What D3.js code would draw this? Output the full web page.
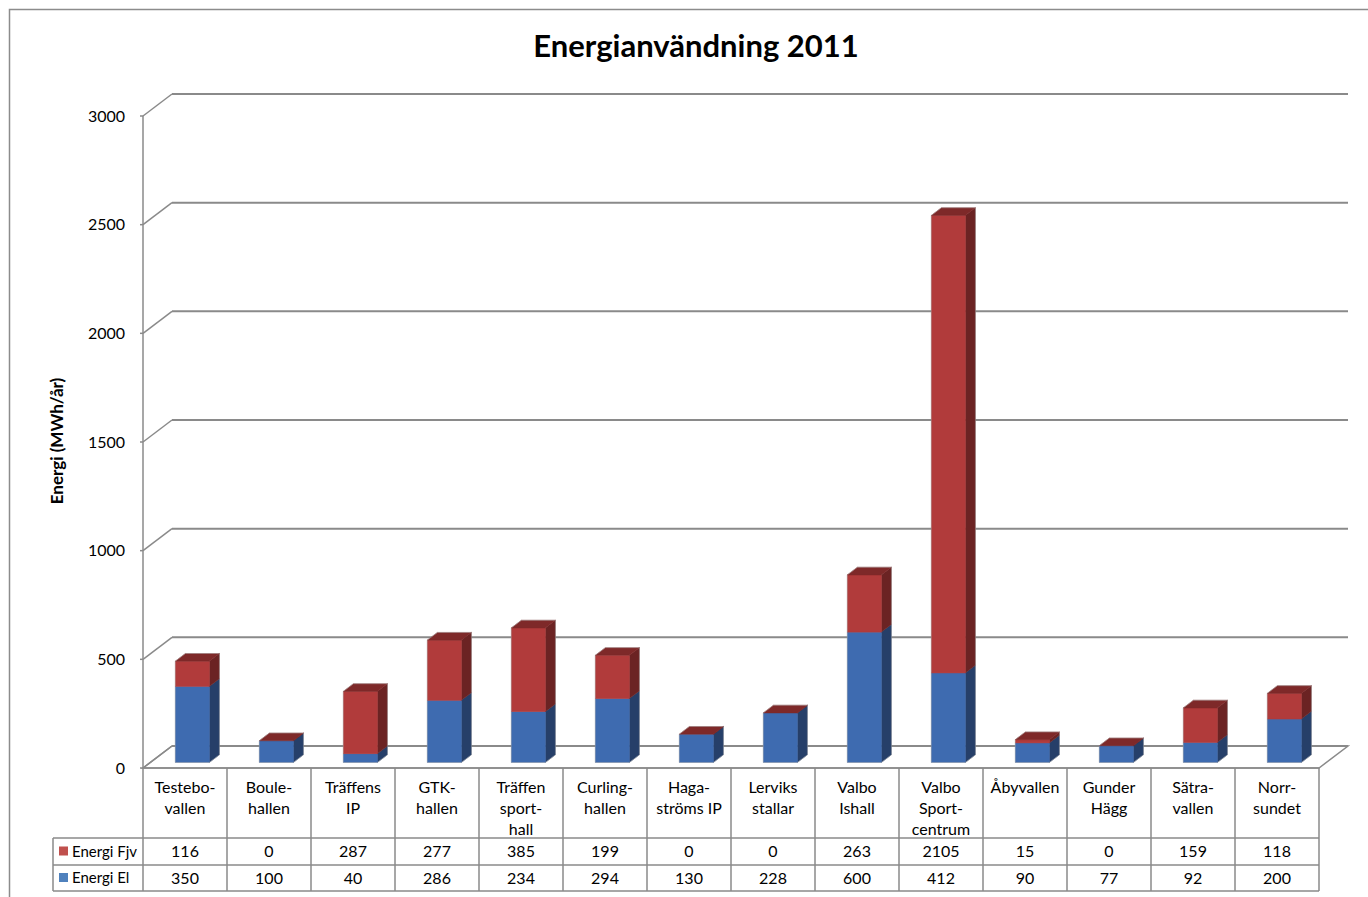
<!DOCTYPE html>
<html>
<head>
<meta charset="utf-8">
<script src="https://cdn.jsdelivr.net/npm/d3@7/dist/d3.min.js"></script>
<style>
  html, body { margin: 0; padding: 0; background: #fff; }
  svg { display: block; font-family: Lato, "Open Sans", sans-serif; }
</style>
</head>
<body>
<svg id="chart" width="1368" height="897"></svg>
<script>
// Energy use per facility, 2011 (MWh/year)
const categories = [
  ["Testebo-", "vallen"], ["Boule-", "hallen"], ["Träffens", "IP"], ["GTK-", "hallen"],
  ["Träffen", "sport-", "hall"], ["Curling-", "hallen"], ["Haga-", "ströms IP"],
  ["Lerviks", "stallar"], ["Valbo", "Ishall"], ["Valbo", "Sport-", "centrum"],
  ["Åbyvallen"], ["Gunder", "Hägg"], ["Sätra-", "vallen"], ["Norr-", "sundet"]
];
const energiFjv = [116, 0, 287, 277, 385, 199, 0, 0, 263, 2105, 15, 0, 159, 118];
const energiEl  = [350, 100, 40, 286, 234, 294, 130, 228, 600, 412, 90, 77, 92, 200];
const yTicks = [0, 500, 1000, 1500, 2000, 2500, 3000];
const seriesNames = ["Energi Fjv", "Energi El"];

const svg = d3.select("#chart");

// plot geometry (front plane) and 3D depth offset
const plotLeft = 143, plotRight = 1319, plotBottom = 768, plotTop = 116;
const depthX = 29, depthY = -22;
const f1 = 0.25, f2 = 0.6;           // bar depth span within the floor
const barFrac = 0.405;

const keys = categories.map((c, i) => i);
const x = d3.scaleBand().domain(keys).range([plotLeft, plotRight]).padding(0);
const y = d3.scaleLinear().domain([0, 3000]).range([plotBottom, plotTop]);

const gridColor = "#8a8a8a";

// outer chart border
svg.append("rect").attr("x", 9.5).attr("y", 9.5).attr("width", 1380).attr("height", 900)
  .attr("fill", "none").attr("stroke", "#8c8c8c").attr("stroke-width", 1.5);

// title
svg.append("text").attr("x", 696).attr("y", 57).attr("text-anchor", "middle")
  .attr("font-size", 31).attr("font-weight", "bold").attr("fill", "#000")
  .text("Energianvändning 2011");

// floor
svg.append("path")
  .attr("d", `M${plotLeft},${plotBottom} L${plotRight},${plotBottom} L${plotRight + depthX},${plotBottom + depthY} L${plotLeft + depthX},${plotBottom + depthY} Z`)
  .attr("fill", "#fff").attr("stroke", gridColor).attr("stroke-width", 1.5);

// back-wall gridlines and side-wall diagonals
const grid = svg.append("g");
yTicks.forEach(t => {
  const yf = y(t);
  grid.append("line").attr("x1", plotLeft + depthX).attr("x2", plotRight + depthX)
    .attr("y1", yf + depthY).attr("y2", yf + depthY)
    .attr("stroke", gridColor).attr("stroke-width", 2);
  grid.append("line").attr("x1", plotLeft).attr("x2", plotLeft + depthX)
    .attr("y1", yf).attr("y2", yf + depthY)
    .attr("stroke", gridColor).attr("stroke-width", 1.5);
  grid.append("line").attr("x1", plotLeft - 3).attr("x2", plotLeft)
    .attr("y1", yf).attr("y2", yf)
    .attr("stroke", gridColor).attr("stroke-width", 1.5);
});
// front value axis
grid.append("line").attr("x1", plotLeft).attr("x2", plotLeft).attr("y1", plotTop).attr("y2", plotBottom)
  .attr("stroke", gridColor).attr("stroke-width", 1.5);

// tick labels
svg.append("g").selectAll("text").data(yTicks).join("text")
  .attr("x", 125).attr("y", d => y(d)).attr("dy", "0.35em")
  .attr("text-anchor", "end").attr("font-size", 16).attr("fill", "#000")
  .text(d => d);

// axis title
svg.append("text").attr("transform", "translate(63,441) rotate(-90)")
  .attr("text-anchor", "middle").attr("font-size", 17).attr("font-weight", "bold")
  .text("Energi (MWh/år)");

// 3D stacked bars
const colors = {
  el:  { front: "#3e6bb0", side: "#263f69", top: "#2f5190" },
  fjv: { front: "#b13b3b", side: "#6b2323", top: "#7e2929" }
};
const bars = svg.append("g");
const bw = x.bandwidth() * barFrac;
const dx1 = depthX * f1, dy1 = depthY * f1;
const ddx = depthX * (f2 - f1), ddy = depthY * (f2 - f1);

function drawSegment(g, i, v0, v1, c, drawTop) {
  const x0 = x(i) + (x.bandwidth() - bw) / 2 + dx1;
  const x1 = x0 + bw;
  const yb = y(v0) + dy1, yt = y(v1) + dy1;
  // side face
  g.append("path")
    .attr("d", `M${x1},${yb} L${x1 + ddx},${yb + ddy} L${x1 + ddx},${yt + ddy} L${x1},${yt} Z`)
    .attr("fill", c.side).attr("stroke", c.side).attr("stroke-width", 0.5);
  // front face
  g.append("rect").attr("x", x0).attr("y", yt).attr("width", bw).attr("height", Math.max(0, yb - yt))
    .attr("fill", c.front).attr("stroke", c.front).attr("stroke-width", 0.5);
  if (drawTop) {
    g.append("path")
      .attr("d", `M${x0},${yt} L${x1},${yt} L${x1 + ddx},${yt + ddy} L${x0 + ddx},${yt + ddy} Z`)
      .attr("fill", c.top).attr("stroke", c.top).attr("stroke-width", 0.5);
  }
  return { x0, x1, yb, yt };
}

keys.forEach(i => {
  const g = bars.append("g");
  const el = energiEl[i], fj = energiFjv[i];
  drawSegment(g, i, 0, el, colors.el, false);
  const r = drawSegment(g, i, el, el + fj, colors.fjv, true);
  // light outline of the whole column
  const b = y(0) + dy1;
  g.append("path")
    .attr("d", `M${r.x0},${b} L${r.x0},${r.yt} L${r.x0 + ddx},${r.yt + ddy} L${r.x1 + ddx},${r.yt + ddy} L${r.x1 + ddx},${b + ddy} L${r.x1},${b} Z`)
    .attr("fill", "none").attr("stroke", "rgba(170,170,170,0.6)").attr("stroke-width", 0.8);
});

// data table
const tbl = svg.append("g");
const rowTop = 838, rowMid = 865, rowBot = 891, legLeft = 53;
const lineC = "#8a8a8a";
// top line under the floor
tbl.append("line").attr("x1", plotLeft).attr("x2", plotRight).attr("y1", plotBottom).attr("y2", plotBottom)
  .attr("stroke", lineC).attr("stroke-width", 1.5);
// vertical column separators
keys.concat([keys.length]).forEach(i => {
  const xx = i < keys.length ? x(i) : plotRight;
  tbl.append("line").attr("x1", xx).attr("x2", xx).attr("y1", plotBottom).attr("y2", rowBot)
    .attr("stroke", lineC).attr("stroke-width", 1.5);
});
// horizontal rows
[rowTop, rowMid, rowBot].forEach(yy => {
  tbl.append("line").attr("x1", legLeft).attr("x2", plotRight).attr("y1", yy).attr("y2", yy)
    .attr("stroke", lineC).attr("stroke-width", 1.5);
});
tbl.append("line").attr("x1", legLeft).attr("x2", legLeft).attr("y1", rowTop).attr("y2", rowBot)
  .attr("stroke", lineC).attr("stroke-width", 1.5);

// category labels
keys.forEach(i => {
  const t = tbl.append("text").attr("x", x(i) + x.bandwidth() / 2).attr("y", 793)
    .attr("text-anchor", "middle").attr("font-size", 16).attr("fill", "#000");
  categories[i].forEach((line, k) => {
    t.append("tspan").attr("x", x(i) + x.bandwidth() / 2).attr("dy", k === 0 ? 0 : 21).text(line);
  });
});

// value rows
const rows = [
  { name: seriesNames[0], values: energiFjv, yc: (rowTop + rowMid) / 2, color: "#c0504d" },
  { name: seriesNames[1], values: energiEl,  yc: (rowMid + rowBot) / 2, color: "#4f81bd" }
];
rows.forEach(r => {
  tbl.append("rect").attr("x", 59).attr("y", r.yc - 5).attr("width", 9).attr("height", 9).attr("fill", r.color);
  tbl.append("text").attr("x", 72).attr("y", r.yc).attr("dy", "0.36em")
    .attr("font-size", 15).text(r.name);
  r.values.forEach((v, i) => {
    tbl.append("text").attr("x", x(i) + x.bandwidth() / 2).attr("y", r.yc).attr("dy", "0.36em")
      .attr("text-anchor", "middle").attr("font-size", 16).text(v);
  });
});
</script>
</body>
</html>
